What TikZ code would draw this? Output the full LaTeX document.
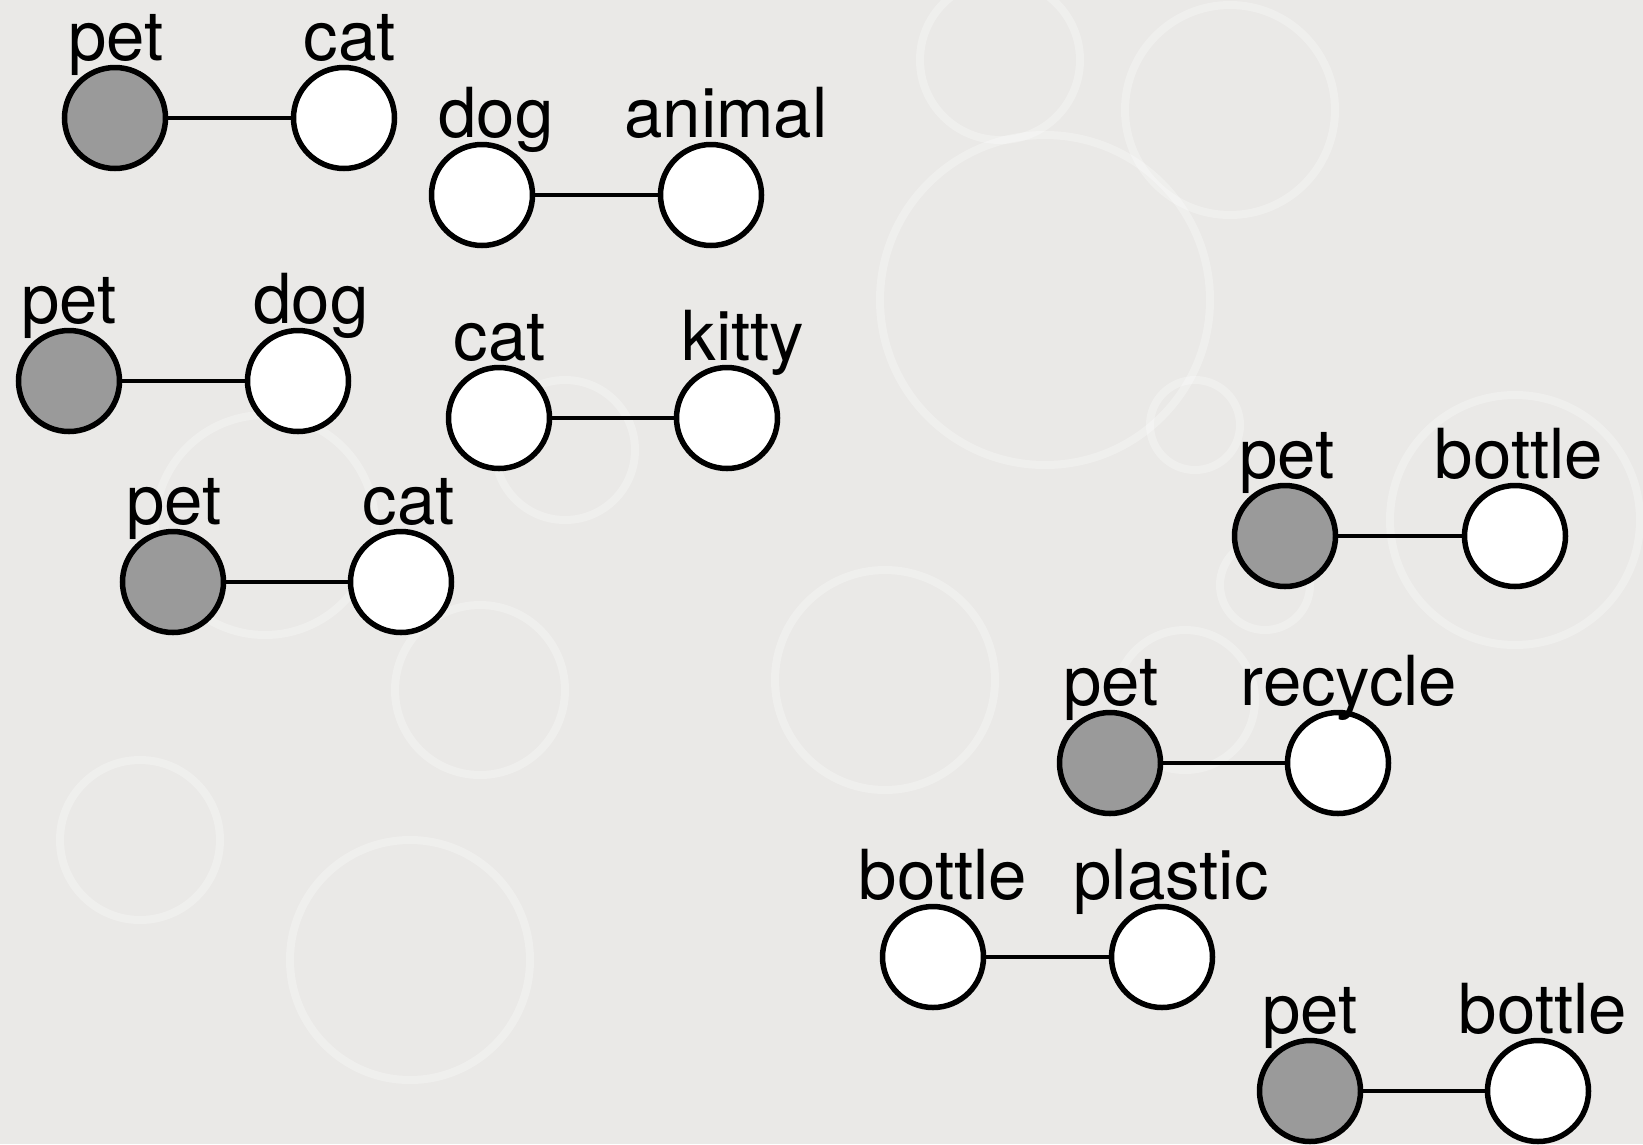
\documentclass[tikz,border=0pt]{standalone}
\usepackage{fontspec}
\setmainfont{TeX Gyre Heros}
\begin{document}
\begin{tikzpicture}[x=1pt,y=-1pt,
  vtx/.style={circle,draw=black,line width=5.5pt,minimum size=101pt,inner sep=0pt},
  whitev/.style={vtx,fill=white},
  lbl/.style={anchor=base,inner sep=0pt,font=\fontsize{69}{69}\selectfont},
  edge/.style={line width=4.5pt,draw=black},
  bubble/.style={draw=white,line width=8pt,opacity=0.28}]
\definecolor{bg}{RGB}{234,233,231}
\definecolor{nodegray}{RGB}{154,154,154}
\tikzset{grayv/.style={vtx,fill=nodegray}}
\fill[bg] (0,0) rectangle (1643,1144);
\useasboundingbox (0,0) rectangle (1643,1144);
% faint background bubbles
\foreach \bx/\by/\br in {1045/300/165,1230/110/105,1515/520/125,885/680/110,480/690/85,265/525/110,565/450/70,1195/425/45,1265/585/45,1185/700/70,410/960/120,140/840/80,1000/60/80}
  \draw[bubble] (\bx,\by) circle (\br);
% pair macro: name, x1, x2, y, fill-style-left, text-left, text-right, lx1, lx2
\newcommand{\mypair}[9]{%
  \node[#5] (#1a) at (#2,#4) {};
  \node[whitev] (#1b) at (#3,#4) {};
  \draw[edge] (#1a) -- (#1b);
  \node[lbl] (#1la) at (#8,#4-58) {#6};
  \node[lbl] (#1lb) at (#9,#4-58) {#7};
}
\mypair{pa}{115}{344}{118}{grayv}{pet}{cat}{116}{350}
\mypair{pb}{482}{711}{195}{whitev}{dog}{animal}{496}{726}
\mypair{pc}{69}{298}{381}{grayv}{pet}{dog}{69}{311}
\mypair{pd}{499}{727}{418}{whitev}{cat}{kitty}{500}{743}
\mypair{pe}{173}{401}{582}{grayv}{pet}{cat}{174}{409}
\mypair{pf}{1285}{1515}{536}{grayv}{pet}{bottle}{1287}{1519}
\mypair{pg}{1110}{1338}{763}{grayv}{pet}{recycle}{1111}{1349}
\mypair{ph}{933}{1162}{957}{whitev}{bottle}{plastic}{943}{1171}
\mypair{pi}{1310}{1538}{1091}{grayv}{pet}{bottle}{1310}{1543}
\end{tikzpicture}
\end{document}
